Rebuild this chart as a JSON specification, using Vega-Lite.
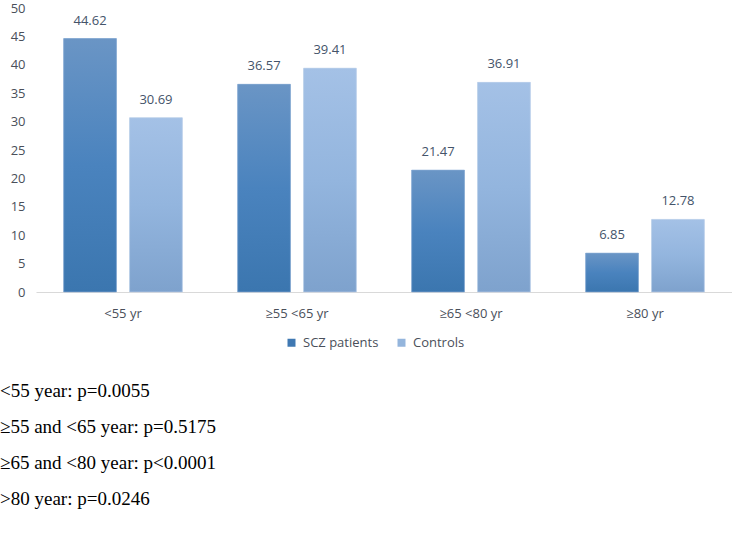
{
  "$schema": "https://vega.github.io/schema/vega-lite/v6.json",
  "width": 696,
  "height": 284,
  "autosize": {"type": "none"},
  "padding": {"left": 36, "top": 8, "right": 0, "bottom": 258},
  "background": "white",
  "config": {"view": {"stroke": null}, "font": "Open Sans"},
  "data": {
    "values": [
      {"age": "<55 yr", "group": "SCZ patients", "value": 44.62},
      {"age": "<55 yr", "group": "Controls", "value": 30.69},
      {"age": "≥55 <65 yr", "group": "SCZ patients", "value": 36.57},
      {"age": "≥55 <65 yr", "group": "Controls", "value": 39.41},
      {"age": "≥65 <80 yr", "group": "SCZ patients", "value": 21.47},
      {"age": "≥65 <80 yr", "group": "Controls", "value": 36.91},
      {"age": "≥80 yr", "group": "SCZ patients", "value": 6.85},
      {"age": "≥80 yr", "group": "Controls", "value": 12.78}
    ]
  },
  "title": {
    "text": ["<55 year: p=0.0055", "≥55 and <65 year: p=0.5175", "≥65 and <80 year: p<0.0001", ">80 year: p=0.0246"],
    "orient": "bottom",
    "anchor": "start",
    "frame": "group",
    "dx": -36,
    "offset": 32,
    "baseline": "top",
    "lineHeight": 36,
    "font": "Liberation Serif",
    "fontSize": 19,
    "fontWeight": "normal",
    "color": "#000000"
  },
  "encoding": {
    "x": {
      "field": "age",
      "type": "nominal",
      "sort": ["<55 yr", "≥55 <65 yr", "≥65 <80 yr", "≥80 yr"],
      "scale": {"paddingInner": 0, "paddingOuter": 0},
      "axis": {
        "title": null,
        "labelAngle": 0,
        "ticks": false,
        "domainColor": "#d9d9d9",
        "domainWidth": 1,
        "labelPadding": 15,
        "labelFontSize": 13,
        "labelColor": "#4a4f5a",
        "labelFont": "Open Sans"
      }
    },
    "xOffset": {
      "field": "group",
      "sort": ["SCZ patients", "Controls"],
      "scale": {"paddingInner": 0.2, "paddingOuter": 0.42}
    },
    "y": {
      "field": "value",
      "type": "quantitative",
      "scale": {"domain": [0, 50]},
      "axis": {
        "title": null,
        "values": [0, 5, 10, 15, 20, 25, 30, 35, 40, 45, 50],
        "grid": false,
        "domain": false,
        "ticks": false,
        "labelPadding": 11,
        "labelFontSize": 13,
        "labelColor": "#4a4f5a",
        "labelFont": "Open Sans"
      }
    }
  },
  "layer": [
    {
      "mark": {"type": "bar"},
      "encoding": {
        "color": {
          "field": "group",
          "type": "nominal",
          "sort": ["SCZ patients", "Controls"],
          "scale": {"domain": ["SCZ patients", "Controls"], "range": ["#3f78b2", "#94b5dc"]},
          "legend": {
            "title": null,
            "orient": "none",
            "legendX": 249,
            "legendY": 328,
            "direction": "horizontal",
            "symbolType": "square",
            "symbolSize": 64,
            "symbolStrokeWidth": 0,
            "labelFontSize": 13,
            "labelColor": "#4a4f5a",
            "labelFont": "Open Sans",
            "columnPadding": 16,
            "labelOffset": 5
          }
        }
      }
    },
    {
      "transform": [{"filter": "datum.group === 'SCZ patients'"}],
      "mark": {
        "type": "bar",
        "stroke": "#8fb0d6",
        "strokeWidth": 0.6,
        "fill": {
          "gradient": "linear",
          "x1": 0, "y1": 0, "x2": 0, "y2": 1,
          "stops": [
            {"offset": 0, "color": "#6a95c5"},
            {"offset": 0.5, "color": "#4a83be"},
            {"offset": 1, "color": "#3b76af"}
          ]
        }
      }
    },
    {
      "transform": [{"filter": "datum.group === 'Controls'"}],
      "mark": {
        "type": "bar",
        "stroke": "#c3d5ec",
        "strokeWidth": 0.6,
        "fill": {
          "gradient": "linear",
          "x1": 0, "y1": 0, "x2": 0, "y2": 1,
          "stops": [
            {"offset": 0, "color": "#a4c1e6"},
            {"offset": 0.5, "color": "#93b5de"},
            {"offset": 1, "color": "#7ea2cd"}
          ]
        }
      }
    },
    {
      "mark": {
        "type": "text",
        "baseline": "alphabetic",
        "dy": -14,
        "fontSize": 13,
        "font": "Open Sans",
        "color": "#44546a"
      },
      "encoding": {
        "text": {"field": "value", "type": "quantitative", "format": ".2f"}
      }
    }
  ]
}
